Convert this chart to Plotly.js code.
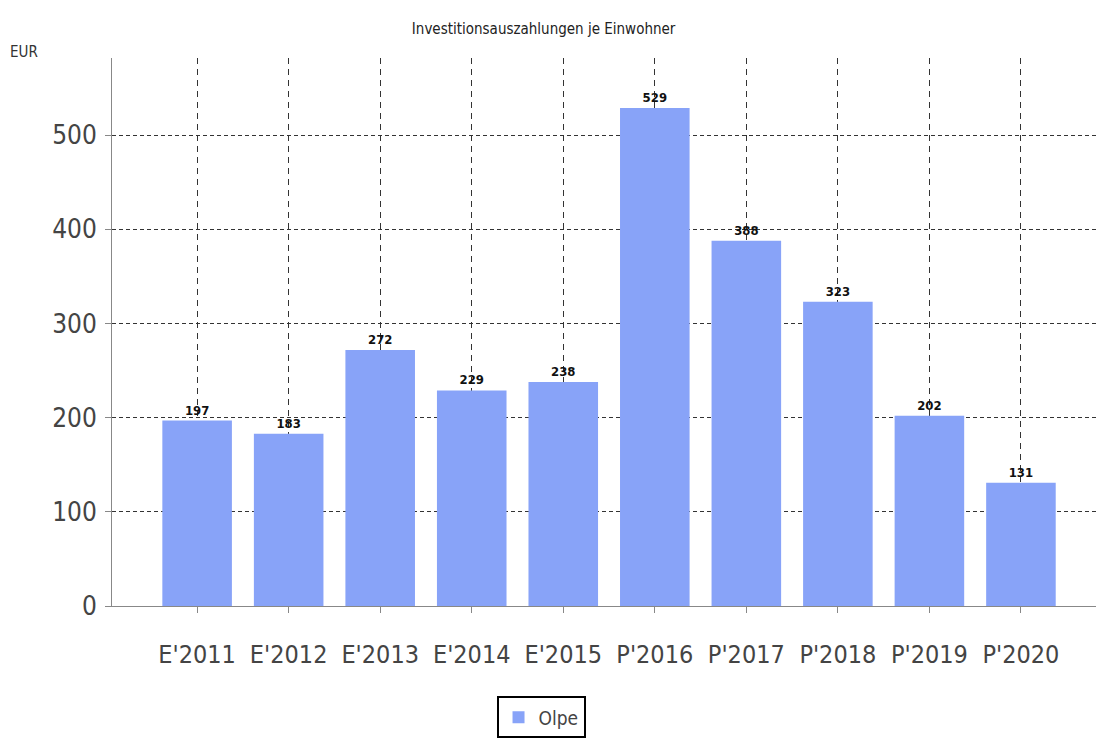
<!DOCTYPE html>
<html>
<head>
<meta charset="utf-8">
<script src="https://cdn.plot.ly/plotly-3.0.1.min.js"></script>
<style>
  html, body { margin: 0; padding: 0; background: #fff; }
  #chart { width: 1096px; height: 749px; }
</style>
</head>
<body>
<div id="chart"></div>
<script>
// Daten: Investitionsauszahlungen je Einwohner (EUR)
const jahre = ["E'2011", "E'2012", "E'2013", "E'2014", "E'2015", "P'2016", "P'2017", "P'2018", "P'2019", "P'2020"];
const olpe = [197, 183, 272, 229, 238, 529, 388, 323, 202, 131];
const yTicks = [0, 100, 200, 300, 400, 500];

const schrift = '"Liberation Sans Narrow", "DejaVu Sans Condensed", Arial, sans-serif';

const data = [{
    type: 'bar',
    name: 'Olpe',
    x: jahre,
    y: olpe,
    width: 0.76,
    marker: {color: '#88a3f8', line: {color: '#9a9a9a', width: 0}},
    text: olpe.map(String),
    textposition: 'outside',
    cliponaxis: false,
    textfont: {family: schrift, size: 13, color: '#111', weight: 'bold'},
    hoverinfo: 'x+y'
}];

const layout = {
    width: 1096,
    height: 749,
    margin: {l: 112, r: 0, t: 58, b: 143},
    paper_bgcolor: '#fff',
    plot_bgcolor: '#fff',
    font: {family: schrift, color: '#444'},
    title: {
        text: 'Investitionsauszahlungen je Einwohner',
        font: {family: schrift, size: 15, color: '#222'},
        x: 0.496, xanchor: 'center',
        y: 0.962, yanchor: 'middle'
    },
    showlegend: true,
    legend: {
        x: 0.436, xanchor: 'center',
        y: -0.165, yanchor: 'top',
        bordercolor: '#000',
        borderwidth: 2,
        bgcolor: '#fff',
        font: {family: schrift, size: 19, color: '#444'}
    },
    xaxis: {
        type: 'category',
        range: [-0.93, 9.82],
        showgrid: true,
        gridcolor: '#333',
        griddash: '6px,5px',
        gridwidth: 1,
        showline: true,
        linecolor: '#888',
        linewidth: 1,
        ticks: 'outside',
        ticklen: 6,
        tickcolor: '#888',
        ticklabelstandoff: 20,
        tickfont: {family: schrift, size: 25, color: '#444'},
        zeroline: false
    },
    yaxis: {
        range: [0, 582],
        tickvals: yTicks,
        showgrid: true,
        gridcolor: '#333',
        griddash: '4px,3px',
        gridwidth: 1,
        showline: true,
        linecolor: '#888',
        linewidth: 1,
        ticks: 'outside',
        ticklen: 6,
        tickcolor: '#888',
        ticklabelstandoff: 3,
        tickfont: {family: schrift, size: 26, color: '#444'},
        zeroline: false
    },
    annotations: [{
        text: 'EUR',
        xref: 'paper', yref: 'paper',
        x: -104 / 984, xanchor: 'left',
        y: 1 + 6 / 548, yanchor: 'middle',
        showarrow: false,
        font: {family: schrift, size: 15, color: '#333'}
    }],
    bargap: 0.24
};

Plotly.newPlot('chart', data, layout, {displayModeBar: false, staticPlot: true});
</script>
</body>
</html>
